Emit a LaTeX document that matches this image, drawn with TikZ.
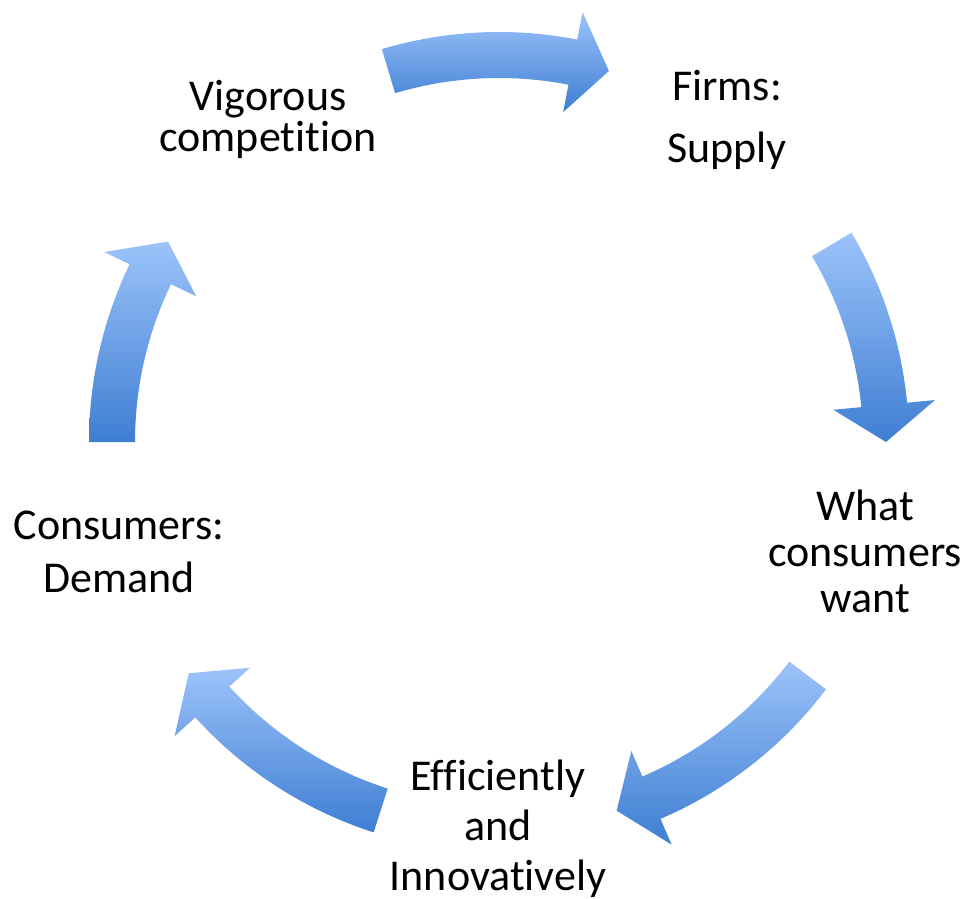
\documentclass[tikz,border=0pt]{standalone}
\usepackage{fontspec}
\setmainfont{Carlito}[Ligatures=NoCommon]
\definecolor{arrowtop}{RGB}{156,195,250}
\definecolor{arrowbottom}{RGB}{62,126,210}
\tikzset{
  arrowfill/.style={top color=arrowtop, bottom color=arrowbottom, draw=none},
  label/.style={anchor=base, align=center, inner sep=0pt, text=black},
}
% curved cycle arrow on the ring: #1 = start angle, #2 = tip angle (clockwise)
\newcommand{\cyclearrow}[2]{%
  \pgfmathsetmacro\headbase{#2+5.5}%
  \shade[arrowfill] (#1:410) arc[start angle=#1, end angle=\headbase, radius=410]
    -- (\headbase:438) -- (#2:387) -- (\headbase:336) -- (\headbase:364)
    arc[start angle=\headbase, end angle=#1, radius=364] -- cycle;
}
\begin{document}
\begin{tikzpicture}[x=1pt, y=1pt]
  \useasboundingbox (0,0) rectangle (972,-898);

  % ring of arrows
  \begin{scope}[shift={(499,-442)}]
    \cyclearrow{106.6}{73.5}
    \cyclearrow{30.7}{0}
    \cyclearrow{-37.1}{-72.3}
    \cyclearrow{252.2}{216.7}
    \cyclearrow{180}{148.8}
  \end{scope}

  % stages of the cycle (anchored at the baseline of the last line)
  \node[label, font=\fontsize{44}{41}\selectfont] (competition) at (268,-151)
    {Vigorous\\competition};
  \node[label, font=\fontsize{44}{62}\selectfont] (firms) at (727,-162)
    {Firms:\\Supply};
  \node[label, font=\fontsize{44}{46}\selectfont] (want) at (865,-612)
    {What\\consumers\\want};
  \node[label, font=\fontsize{44}{50}\selectfont] (efficient) at (498,-890)
    {Efficiently\\and\\Innovatively};
  \node[label, font=\fontsize{44}{53}\selectfont] (consumers) at (119,-592)
    {Consumers:\\Demand};
\end{tikzpicture}
\end{document}
